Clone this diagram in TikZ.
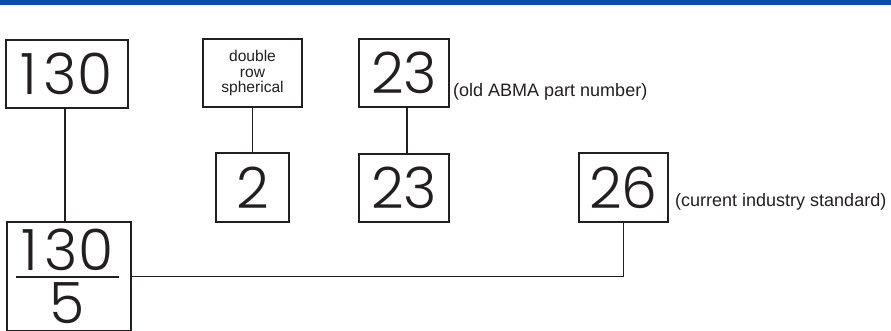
\documentclass[tikz,border=0pt]{standalone}
\usepackage{fontspec}
\setmainfont{Liberation Sans}
\newfontfamily\digitfont{Poppins Light}
\definecolor{barblue}{HTML}{0B4DA2}
\definecolor{ink}{HTML}{231F20}
% wider set "1" before the following digit
\newcommand\wideone{1\kern6pt}
\tikzset{
  numbox/.style={draw=ink, line width=1.1pt, inner sep=0pt, text=ink,
    font=\digitfont\fontsize{57}{57}\selectfont},
  numtext/.style={text=ink, inner sep=0pt, font=\digitfont\fontsize{57}{57}\selectfont},
  labelbox/.style={draw=ink, line width=1.1pt, inner sep=0pt, text=ink, align=center,
    font=\fontsize{15.6}{15.7}\selectfont},
  note/.style={text=ink, inner sep=0pt, font=\fontsize{18}{18}\selectfont},
  link/.style={draw=ink, line width=1.1pt},
}
\begin{document}
\begin{tikzpicture}[x=1pt, y=-1pt]
  \useasboundingbox (0,0) rectangle (891,330);
  % top banner
  \fill[barblue] (0,0) rectangle (891,5);

  % upper row
  \node[numbox, minimum width=122pt, minimum height=68pt] (b130) at (67,74) {\wideone 3\kern1pt 0};
  \node[labelbox, minimum width=99pt, minimum height=68pt] (drs) at (252.5,73) {double\\row\\spherical};
  \node[numbox, minimum width=90pt, minimum height=68pt] (o23) at (404,73) {23};
  \node[note, anchor=base west] (oldnote) at (453,96) {(old ABMA part number)};

  % middle row
  \node[numbox, minimum width=73pt, minimum height=69pt] (two) at (252.5,187.5) {2};
  \node[numbox, minimum width=90pt, minimum height=68pt] (n23) at (404,188) {23};
  \node[numbox, minimum width=89pt, minimum height=69pt] (n26) at (623.5,187.5) {26};
  \node[note, anchor=base west] (curnote) at (675,206) {(current industry standard)};

  % fraction box at the bottom left
  \node[draw=ink, line width=1.1pt, minimum width=124pt, minimum height=109pt, inner sep=0pt] (frac) at (69,276.5) {};
  \node[numtext] (num) at (67.5,250) {\wideone 3\kern1pt 0};
  \node[numtext] (den) at (67,303) {5};
  \coordinate (barl) at (16,277);
  \coordinate (barr) at (119,277);
  \draw[link] (barl) -- (barr);

  % connectors
  \draw[link] ([xshift=-2pt]b130.south) -- ([xshift=-2pt]b130.south |- frac.north);
  \draw[link] (drs.south) -- (two.north);
  \draw[link] ([xshift=3pt]o23.south) -- ([xshift=3pt]n23.north);
  \draw[link] (frac.east) -| (n26.south);
\end{tikzpicture}
\end{document}
